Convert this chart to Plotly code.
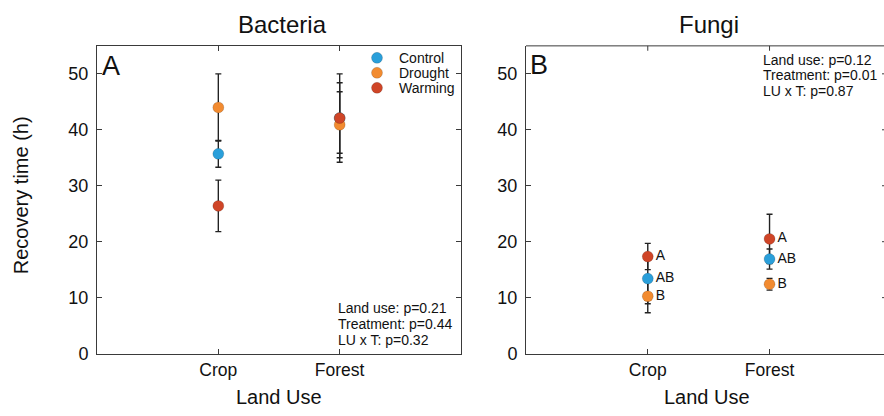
import plotly.graph_objects as go

# ---------------- data ----------------
categories = ["Crop", "Forest"]
treatments = ["Control", "Drought", "Warming"]

bact_control = [35.7, 42.1]
bact_control_err = [2.4, 6.3]
bact_drought = [44.0, 40.9]
bact_drought_err = [6.0, 5.9]
bact_warming = [26.4, 42.1]
bact_warming_err = [4.6, 7.9]

fungi_control = [13.4, 16.9]
fungi_control_err = [4.5, 1.8]
fungi_drought = [10.25, 12.4]
fungi_drought_err = [2.95, 1.05]
fungi_warming = [17.35, 20.5]
fungi_warming_err = [2.35, 4.4]

fungi_letters_control = ["AB", "AB"]
fungi_letters_drought = ["B", "B"]
fungi_letters_warming = ["A", "A"]

bact_stats = ["Land use: p=0.21", "Treatment: p=0.44", "LU x T: p=0.32"]
fungi_stats = ["Land use: p=0.12", "Treatment: p=0.01", "LU x T: p=0.87"]

y_ticks = [0, 10, 20, 30, 40, 50]

# ---------------- style ----------------
W, H = 884, 416
FONT = "Arial, Liberation Sans, Helvetica, sans-serif"
colors = {"Control": "#2a9fda", "Drought": "#f28b30", "Warming": "#cf4527"}
AX = "#3a3a3a"


def px(xp):
    return xp / W


def py(yp):
    return (H - yp) / H


fig = go.Figure()

bact = {
    "Control": (bact_control, bact_control_err),
    "Drought": (bact_drought, bact_drought_err),
    "Warming": (bact_warming, bact_warming_err),
}
fungi = {
    "Control": (fungi_control, fungi_control_err, fungi_letters_control),
    "Drought": (fungi_drought, fungi_drought_err, fungi_letters_drought),
    "Warming": (fungi_warming, fungi_warming_err, fungi_letters_warming),
}

# error bars first (so markers sit on top)
for t in treatments:
    vals, err = bact[t]
    fig.add_trace(go.Scatter(
        x=categories, y=vals, mode="markers", xaxis="x", yaxis="y",
        marker=dict(size=11, color="rgba(0,0,0,0)"),
        error_y=dict(type="data", array=err, visible=True, color="#222",
                     thickness=1.4, width=3),
        showlegend=False, hoverinfo="skip"))
for t in treatments:
    vals, err, _ = fungi[t]
    fig.add_trace(go.Scatter(
        x=categories, y=vals, mode="markers", xaxis="x2", yaxis="y2",
        marker=dict(size=11, color="rgba(0,0,0,0)"),
        error_y=dict(type="data", array=err, visible=True, color="#222",
                     thickness=1.4, width=3),
        showlegend=False, hoverinfo="skip"))

# markers
for t in treatments:
    vals, err = bact[t]
    fig.add_trace(go.Scatter(
        x=categories, y=vals, mode="markers", name=t, xaxis="x", yaxis="y",
        marker=dict(size=11, color=colors[t],
                    line=dict(width=0.6, color="rgba(0,0,0,0.25)")),
        showlegend=False))
for t in treatments:
    vals, err, letters = fungi[t]
    fig.add_trace(go.Scatter(
        x=categories, y=vals, mode="markers+text", name=t, xaxis="x2", yaxis="y2",
        text=letters, textposition="middle right",
        textfont=dict(size=14, color="#111", family=FONT),
        marker=dict(size=11, color=colors[t],
                    line=dict(width=0.6, color="rgba(0,0,0,0.25)")),
        showlegend=False))

ydom = [py(362.3), py(47)]
xaxis_common = dict(
    type="category", categoryorder="array", categoryarray=categories,
    showline=True, linecolor=AX, linewidth=1, ticks="inside", ticklen=5,
    tickcolor=AX, showgrid=False, zeroline=False,
    tickfont=dict(size=17.5, color="#111", family=FONT), ticklabelstandoff=0)
yaxis_common = dict(
    range=[0, 55], tickvals=y_ticks, showline=True, linecolor=AX, linewidth=1,
    ticks="inside", ticklen=5, tickcolor=AX, showgrid=False, zeroline=False,
    tickfont=dict(size=18, color="#111", family=FONT), ticklabelstandoff=4,
    domain=ydom)

fig.update_layout(
    width=W, height=H, margin=dict(l=0, r=0, t=0, b=0),
    paper_bgcolor="white", plot_bgcolor="white",
    font=dict(family=FONT, color="#111"),
    showlegend=False,
    xaxis=dict(xaxis_common, domain=[px(97), px(461)], range=[-1, 2],
               mirror="ticks", anchor="y"),
    yaxis=dict(yaxis_common, mirror="ticks", anchor="x"),
    xaxis2=dict(xaxis_common, domain=[px(526), 1.0], range=[-1, 1.94],
                mirror=False, anchor="y2"),
    yaxis2=dict(yaxis_common, mirror=False, anchor="x2"),
)

shapes = []
# panel B top border + top ticks (right edge of panel is cut off)
shapes.append(dict(type="line", xref="x2 domain", yref="y2 domain",
                   x0=0, x1=1, y0=1, y1=1, line=dict(color=AX, width=1)))
for i in range(len(categories)):
    shapes.append(dict(type="line", xref="x2", yref="y2 domain",
                       x0=i, x1=i, y0=1, y1=1 - 5 / (362.3 - 47),
                       line=dict(color=AX, width=1)))
for v in y_ticks[1:]:
    shapes.append(dict(type="line", xref="x2 domain", yref="y2",
                       x0=1 - 2 / 358, x1=1, y0=v, y1=v,
                       line=dict(color=AX, width=1)))

ann = []
# legend (panel A, top right)
legend_y = [59.3, 74.6, 90.0]
for t, ly in zip(treatments, legend_y):
    shapes.append(dict(type="circle", xref="paper", yref="paper",
                       xsizemode="pixel", ysizemode="pixel",
                       xanchor=px(377), yanchor=py(ly),
                       x0=-5.5, x1=5.5, y0=-5.5, y1=5.5,
                       fillcolor=colors[t], line=dict(width=0.6, color="rgba(0,0,0,0.25)")))
    ann.append(dict(text=t, x=px(397), y=py(ly), xref="paper", yref="paper",
                    showarrow=False, font=dict(size=14), xanchor="left", yanchor="middle"))
fig.update_layout(shapes=shapes)

ann.append(dict(text="Bacteria", x=px(282), y=py(25), xref="paper", yref="paper",
                showarrow=False, font=dict(size=24), xanchor="center", yanchor="middle"))
ann.append(dict(text="Fungi", x=px(709), y=py(25), xref="paper", yref="paper",
                showarrow=False, font=dict(size=24), xanchor="center", yanchor="middle"))
for cx in (279, 707):
    ann.append(dict(text="Land Use", x=px(cx), y=py(407), xref="paper", yref="paper",
                    showarrow=False, font=dict(size=20), xanchor="center", yanchor="middle"))
ann.append(dict(text="Recovery time (h)", x=px(21), y=py(200), xref="paper", yref="paper",
                showarrow=False, font=dict(size=20), textangle=-90,
                xanchor="center", yanchor="middle"))
ann.append(dict(text="A", x=px(100), y=py(68), xref="paper", yref="paper",
                showarrow=False, font=dict(size=27), xanchor="left", yanchor="middle"))
ann.append(dict(text="B", x=px(528), y=py(67), xref="paper", yref="paper",
                showarrow=False, font=dict(size=27), xanchor="left", yanchor="middle"))
for i, s in enumerate(bact_stats):
    ann.append(dict(text=s, x=px(336), y=py(316 + 16.3 * i), xref="paper", yref="paper",
                    showarrow=False, font=dict(size=14), xanchor="left", yanchor="middle"))
for i, s in enumerate(fungi_stats):
    ann.append(dict(text=s, x=px(761), y=py(61 + 16 * i), xref="paper", yref="paper",
                    showarrow=False, font=dict(size=14), xanchor="left", yanchor="middle"))
fig.update_layout(annotations=ann)

# remove the default 8px page margin so the figure fills the window exactly
fig.write_html("out.html", post_script="document.body.style.margin='0';",
               config={"displayModeBar": False})
